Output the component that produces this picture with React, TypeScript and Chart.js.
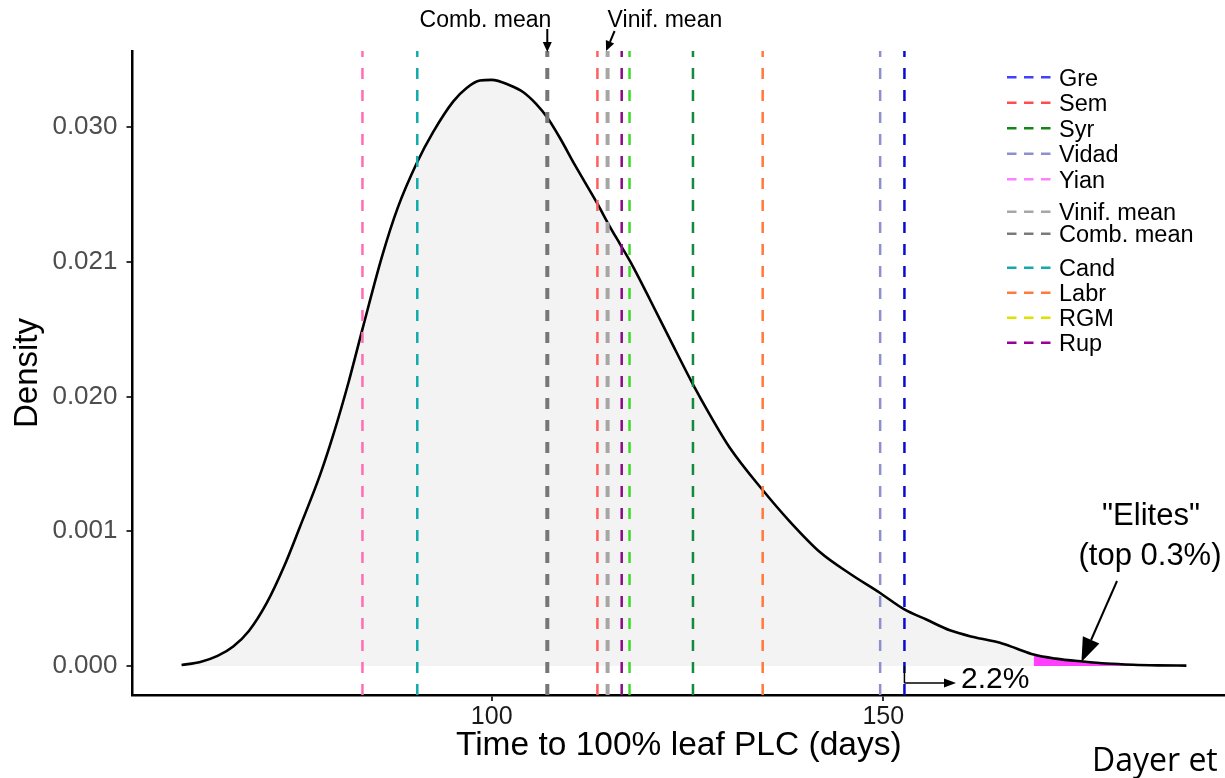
import React, { useEffect, useRef } from 'react';
import { Chart, registerables } from 'chart.js';

Chart.register(...registerables);

// ---------- data ----------
const curveDays = [60.4, 62.8, 65.0, 67.0, 69.0, 71.3, 73.5, 75.5, 78.1, 79.8, 81.7, 83.5, 86.0, 88.0, 90.5, 92.5, 95.1, 96.8, 98.5, 100.0, 102.3, 104.0, 105.7, 107.1, 108.7, 110.6, 113.6, 114.9, 116.5, 117.7, 120.2, 122.8, 125.7, 127.9, 130.4, 134.6, 138.1, 141.9, 145.8, 149.6, 152.7, 155.5, 158.5, 161.5, 164.9, 167.0, 169.2, 172.0, 175.5, 178.5, 181.9, 185.0, 188.7];
// density in axis-level units (one unit per labelled tick)
const curveDensity = [0.007, 0.03, 0.075, 0.145, 0.26, 0.47, 0.74, 1.03, 1.42, 1.72, 2.10, 2.50, 3.04, 3.40, 3.74, 3.96, 4.19, 4.29, 4.345, 4.35, 4.31, 4.26, 4.17, 4.07, 3.92, 3.72, 3.42, 3.28, 3.12, 3.00, 2.72, 2.42, 2.09, 1.86, 1.62, 1.306, 1.07, 0.846, 0.683, 0.542, 0.42, 0.345, 0.265, 0.215, 0.172, 0.13, 0.085, 0.055, 0.033, 0.018, 0.009, 0.005, 0.003];

const eliteStart = 169.2;
const eliteEnd = 182;

const refNames = ['Gre', 'Sem', 'Syr', 'Vidad', 'Yian', 'Vinif. mean', 'Comb. mean', 'Cand', 'Labr', 'RGM', 'Rup'];
const refDays = [152.7, 113.5, 125.7, 149.6, 83.5, 114.8, 107.1, 90.5, 134.6, 117.6, 116.6];
const legendGroups = [[0, 1, 2, 3, 4], [5, 6], [7, 8, 9, 10]];

const yTickLevels = [0, 1, 2, 3, 4];
const yTickLabels = ['0.000', '0.001', '0.020', '0.021', '0.030'];
const xTickValues = [100, 150];

const xTitle = 'Time to 100% leaf PLC (days)';
const yTitle = 'Density';
const eliteLabel1 = '"Elites"';
const eliteLabel2 = '(top 0.3%)';
const tailLabel = '2.2%';
const creditLabel = 'Dayer et';

// ---------- styles ----------
const refLineColors = ['#0b0bcc', '#ff5f5f', '#138a3c', '#8f8fcf', '#ff6db3', '#a6a6a6', '#767676', '#14aaaa', '#ff7a3a', '#3fd92b', '#8a0a8a'];
const refLegendColors = ['#4040ff', '#ff4d4d', '#118811', '#8f8fcf', '#ff80ff', '#a6a6a6', '#7a7a7a', '#14aaaa', '#ff7a3a', '#e0e000', '#990099'];
const refLineWidths = [2.5, 2.5, 2.5, 2.5, 2.5, 4, 4, 2.5, 2.5, 2.5, 2.5];

const X_MIN = 54.14;
const X_MAX = 193.63;
const Y_MIN = -0.2152;
const Y_MAX = 4.564;
const FONT = '"Liberation Sans", Arial, Helvetica, sans-serif';

Chart.defaults.font.family = FONT;

function arrow(ctx: CanvasRenderingContext2D, x1: number, y1: number, x2: number, y2: number, headLen: number, headW: number, lw: number) {
  const ang = Math.atan2(y2 - y1, x2 - x1);
  const bx = x2 - headLen * Math.cos(ang);
  const by = y2 - headLen * Math.sin(ang);
  ctx.save();
  ctx.setLineDash([]);
  ctx.strokeStyle = '#000';
  ctx.fillStyle = '#000';
  ctx.lineWidth = lw;
  ctx.beginPath();
  ctx.moveTo(x1, y1);
  ctx.lineTo(bx, by);
  ctx.stroke();
  const px = -Math.sin(ang) * headW / 2;
  const py = Math.cos(ang) * headW / 2;
  ctx.beginPath();
  ctx.moveTo(x2, y2);
  ctx.lineTo(bx + px, by + py);
  ctx.lineTo(bx - px, by - py);
  ctx.closePath();
  ctx.fill();
  ctx.restore();
}

const annotatePlugin = {
  id: 'annotate',
  afterDraw(chart: any) {
    const ctx: CanvasRenderingContext2D = chart.ctx;
    const xs = chart.scales.x;
    const ys = chart.scales.y;
    ctx.save();

    // legend
    const groupStarts = [77.2, 211.7, 267.8];
    const groupSteps = [25.5, 22, 25];
    legendGroups.forEach((g, gi) => {
      g.forEach((idx, k) => {
        const y = groupStarts[gi] + k * groupSteps[gi];
        ctx.save();
        ctx.strokeStyle = refLegendColors[idx];
        ctx.lineWidth = 2.5;
        ctx.setLineDash([9.5, 7.5]);
        ctx.beginPath();
        ctx.moveTo(1007, y);
        ctx.lineTo(1052, y);
        ctx.stroke();
        ctx.restore();
        ctx.fillStyle = '#000';
        ctx.font = `23.5px ${FONT}`;
        ctx.textAlign = 'left';
        ctx.textBaseline = 'alphabetic';
        ctx.fillText(refNames[idx], 1059, y + 0.358 * 23.5);
      });
    });

    // top annotations
    const combX = xs.getPixelForValue(refDays[6]);
    const vinifX = xs.getPixelForValue(refDays[5]);
    ctx.fillStyle = '#000';
    ctx.font = `23px ${FONT}`;
    ctx.textBaseline = 'alphabetic';
    ctx.textAlign = 'right';
    ctx.fillText('Comb. mean', combX + 4, 26.5);
    ctx.textAlign = 'left';
    ctx.fillText('Vinif. mean', vinifX, 26.5);
    arrow(ctx, combX, 29, combX, 52, 10, 9, 2);
    arrow(ctx, vinifX + 7, 31, vinifX - 1.5, 51, 10, 9, 2);

    // tail percentage bracket
    const greX = xs.getPixelForValue(refDays[0]);
    const zeroY = ys.getPixelForValue(0);
    ctx.save();
    ctx.strokeStyle = '#000';
    ctx.lineWidth = 1.5;
    ctx.beginPath();
    ctx.moveTo(greX, zeroY);
    ctx.lineTo(greX, 683);
    ctx.stroke();
    ctx.restore();
    arrow(ctx, greX, 683, 956, 683, 12, 9, 1.5);
    ctx.font = `30px ${FONT}`;
    ctx.textAlign = 'left';
    ctx.fillText(tailLabel, 961, 687.5);

    // elites
    ctx.textAlign = 'center';
    ctx.font = `31px ${FONT}`;
    ctx.fillText(eliteLabel1, 1151, 525);
    ctx.fillText(eliteLabel2, 1150, 565);
    arrow(ctx, 1117, 581, xs.getPixelForValue(175.3), ys.getPixelForValue(0.03), 24, 18, 2);

    // credit
    ctx.textAlign = 'left';
    ctx.font = `32px "Open Sans", ${FONT}`;
    ctx.fillText(creditLabel, 1092, 771);

    ctx.restore();
  },
};

export default function App() {
  const ref = useRef<HTMLCanvasElement>(null);

  useEffect(() => {
    const canvas = ref.current;
    if (!canvas) return;

    const curve = curveDays.map((d, i) => ({ x: d, y: curveDensity[i] }));
    const elite = curve.filter((p) => p.x >= eliteStart && p.x <= eliteEnd);

    const refSets = refDays.map((d, i) => ({
      label: refNames[i],
      data: [{ x: d, y: Y_MIN }, { x: d, y: Y_MAX }],
      borderColor: refLineColors[i],
      borderWidth: refLineWidths[i],
      borderDash: [11, 11],
      pointRadius: 0,
      fill: false,
      order: -1,
    }));

    const chart = new Chart(canvas, {
      type: 'line',
      data: {
        datasets: [
          {
            label: 'density',
            data: curve,
            borderColor: 'rgba(0,0,0,0)',
            borderWidth: 0,
            backgroundColor: '#f3f3f3',
            fill: 'origin',
            pointRadius: 0,
            cubicInterpolationMode: 'monotone',
            order: 3,
          },
          {
            label: 'elites',
            data: elite,
            borderWidth: 0,
            borderColor: 'rgba(0,0,0,0)',
            backgroundColor: '#ff40ff',
            fill: 'origin',
            pointRadius: 0,
            cubicInterpolationMode: 'monotone',
            order: 2,
          },
          {
            label: 'densityLine',
            data: curve,
            borderColor: '#000',
            borderWidth: 2.6,
            fill: false,
            pointRadius: 0,
            cubicInterpolationMode: 'monotone',
            order: 1,
          },
          ...refSets,
        ] as any,
      },
      options: {
        responsive: false,
        animation: false,
        devicePixelRatio: 1,
        layout: { padding: { top: 51, left: 0, right: 0, bottom: 0 } },
        plugins: {
          legend: { display: false },
          tooltip: { enabled: false },
        },
        scales: {
          x: {
            type: 'linear',
            position: 'bottom',
            min: X_MIN,
            max: X_MAX,
            afterBuildTicks: (s: any) => {
              s.ticks = xTickValues.map((v) => ({ value: v }));
            },
            afterFit: (s: any) => {
              s.height = 83;
            },
            ticks: {
              font: { size: 25 },
              color: '#1a1a1a',
              padding: 1,
              maxRotation: 0,
              callback: (v: any) => String(v),
            },
            grid: { display: true, drawOnChartArea: false, drawTicks: true, tickLength: 6, color: '#333', lineWidth: 2 },
            border: { display: true, color: '#000', width: 2.5 },
            title: { display: true, text: xTitle, font: { size: 33.5 }, color: '#000', padding: { top: 0, bottom: 12 } },
          },
          y: {
            type: 'linear',
            position: 'left',
            min: Y_MIN,
            max: Y_MAX,
            afterBuildTicks: (s: any) => {
              s.ticks = yTickLevels.map((v) => ({ value: v }));
            },
            afterFit: (s: any) => {
              s.width = 132.5;
            },
            ticks: {
              font: { size: 26 },
              color: '#4d4d4d',
              padding: 9,
              callback: (v: any) => {
                const i = yTickLevels.indexOf(Number(v));
                return i >= 0 ? yTickLabels[i] : '';
              },
            },
            grid: { display: true, drawOnChartArea: false, drawTicks: true, tickLength: 6, color: '#333', lineWidth: 2 },
            border: { display: true, color: '#000', width: 2.5 },
            title: { display: true, text: yTitle, font: { size: 33 }, color: '#000', padding: { top: 8, bottom: 0 } },
          },
        },
      } as any,
      plugins: [annotatePlugin],
    });

    return () => chart.destroy();
  }, []);

  return (
    <div style={{ position: 'absolute', left: 0, top: 0, width: 1225, height: 778, background: '#fff' }}>
      <canvas ref={ref} width={1225} height={778} style={{ display: 'block', width: 1225, height: 778 }} />
    </div>
  );
}
